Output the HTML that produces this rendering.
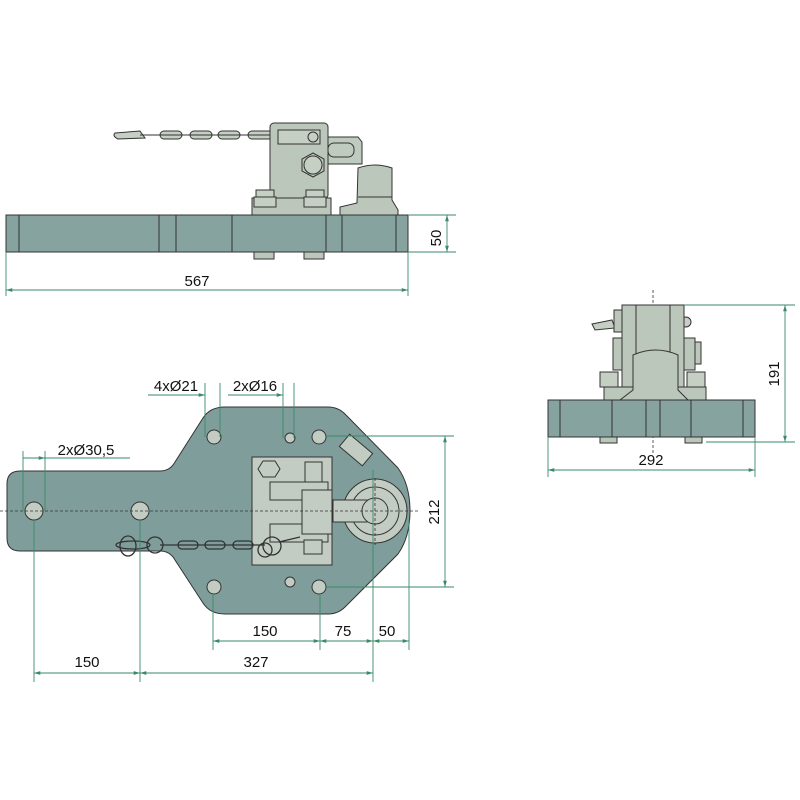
<!DOCTYPE html>
<html><head><meta charset="utf-8"><style>
html,body{margin:0;padding:0;background:#fff;width:800px;height:800px;overflow:hidden}
svg{display:block}
text{font-family:"Liberation Sans",sans-serif;font-size:15px;fill:#111}
</style></head><body>
<svg width="800" height="800" viewBox="0 0 800 800" xmlns="http://www.w3.org/2000/svg">
<defs>
<marker id="a" viewBox="0 0 10 10" refX="10" refY="5" markerWidth="7" markerHeight="7" orient="auto-start-reverse"><path d="M0,2 L10,5 L0,8z" fill="#3a8a6a"/></marker>
</defs>
<g stroke="#333" stroke-width="1">
<g fill="#c5cfc4">
<path d="M115,133 L140,131 L145,138 L118,139 Q112,136 115,133z"/>
<rect x="160" y="131" width="22" height="8" rx="4"/>
<rect x="190" y="131" width="22" height="8" rx="4"/>
<rect x="218" y="131" width="22" height="8" rx="4"/>
<rect x="248" y="131" width="34" height="8" rx="4"/>
</g>
<line x1="140" y1="135" x2="282" y2="135"/>
<path d="M328,137 L358,137 L362,142 L362,164 L328,164z" fill="#c0cbbf"/>
<rect x="328" y="143" width="26" height="14" rx="6" fill="#c0cbbf"/>
<rect x="270" y="123" width="58" height="76" rx="4" fill="#bcc7bb"/>
<rect x="278" y="130" width="42" height="14" fill="#c5cfc4"/>
<circle cx="313" cy="137" r="5" fill="#c5cfc4"/>
<polygon points="313,153 324,159 324,171 313,177 302,171 302,159" fill="#bcc7bb"/>
<circle cx="313" cy="165" r="9" fill="#c5cfc4"/>
<rect x="252" y="198" width="79" height="17" fill="#bcc7bb"/>
<rect x="256" y="190" width="18" height="8" fill="#c5cfc4"/><rect x="254" y="197" width="22" height="10" fill="#c5cfc4"/>
<rect x="306" y="190" width="18" height="8" fill="#c5cfc4"/><rect x="304" y="197" width="22" height="10" fill="#c5cfc4"/>
<path d="M358,168 Q375,162 392,168 L392,200 L398,210 L398,215 L340,215 L340,207 L357,203z" fill="#bcc7bb"/>
<line x1="358" y1="197" x2="392" y2="197"/>
<rect x="6" y="215" width="402" height="37" fill="#86a3a0"/>
<g fill="none"><line x1="19" y1="215" x2="19" y2="252"/><line x1="159" y1="215" x2="159" y2="252"/><line x1="176" y1="215" x2="176" y2="252"/><line x1="232" y1="215" x2="232" y2="252"/><line x1="326" y1="215" x2="326" y2="252"/><line x1="342" y1="215" x2="342" y2="252"/><line x1="396" y1="215" x2="396" y2="252"/></g>
<rect x="254" y="252" width="20" height="7" fill="#bcc7bb"/><rect x="304" y="252" width="20" height="7" fill="#bcc7bb"/>

<path d="M20,471 L160,471 Q170,471 175,462 L203,418 Q210,407 225,407 L328,407 Q338,407 345,414 L398,468 Q410,485 410,511 Q410,537 398,554 L345,607 Q338,614 328,614 L225,614 Q210,614 203,603 L175,560 Q170,551 160,551 L20,551 Q7,551 7,538 L7,484 Q7,471 20,471z" fill="#7f9e9b"/>
<g fill="#c3ccc3">
<circle cx="34" cy="511" r="9"/><circle cx="140" cy="511" r="9"/>
<circle cx="214" cy="437" r="7"/><circle cx="319" cy="437" r="7"/><circle cx="214" cy="587" r="7"/><circle cx="319" cy="587" r="7"/>
<circle cx="290" cy="438" r="5"/><circle cx="290" cy="582" r="5"/>
<rect x="341" y="442" width="30" height="16" transform="rotate(40 356 450)"/>
<rect x="252" y="457" width="80" height="108"/>
<polygon points="257,461 269,461 274,469 269,477 257,477 252,469" transform="translate(6,0)"/>
<rect x="305" y="462" width="17" height="26"/>
<rect x="270" y="482" width="58" height="18"/><rect x="270" y="524" width="58" height="18"/>
<rect x="302" y="490" width="30" height="44"/>
<circle cx="375" cy="511" r="32"/><circle cx="375" cy="511" r="24" fill="none"/>
<rect x="333" y="500" width="34" height="22"/>
<circle cx="375" cy="511" r="13"/>
<rect x="304" y="540" width="18" height="14"/>
</g>
<g fill="none" stroke-width="1.3">
<ellipse cx="133" cy="545" rx="17" ry="4"/><ellipse cx="128" cy="546" rx="8" ry="10"/>
<circle cx="155" cy="545" r="8"/>
<rect x="178" y="541" width="20" height="8" rx="4"/><rect x="205" y="541" width="20" height="8" rx="4"/><rect x="233" y="541" width="20" height="8" rx="4"/>
<circle cx="272" cy="546" r="9"/><circle cx="265" cy="550" r="7"/>
<line x1="160" y1="545" x2="265" y2="545"/><line x1="279" y1="542" x2="300" y2="537"/>
</g>
</g>

<g stroke="#333" stroke-width="0.8" stroke-dasharray="3,2" fill="none">
<line x1="0" y1="511" x2="420" y2="511"/>
<line x1="653" y1="290" x2="653" y2="455"/>
<line x1="618" y1="368" x2="690" y2="368"/>
<line x1="375" y1="478" x2="375" y2="545"/>
</g>

<g stroke="#333" stroke-width="1">
<path d="M592,324 L612,320 L615,328 L595,330z" fill="#c5cfc4"/>
<rect x="614" y="310" width="10" height="22" fill="#bcc7bb"/>
<rect x="613" y="338" width="10" height="32" fill="#bcc7bb"/>
<rect x="683" y="338" width="12" height="32" fill="#bcc7bb"/>
<rect x="695" y="342" width="6" height="22" fill="#bcc7bb"/>
<circle cx="686" cy="322" r="5" fill="#c5cfc4"/>
<rect x="622" y="305" width="62" height="95" fill="#bcc7bb"/>
<line x1="636" y1="305" x2="636" y2="400"/><line x1="670" y1="305" x2="670" y2="400"/>
<rect x="604" y="387" width="102" height="14" fill="#bcc7bb"/>
<path d="M633,355 Q656,345 678,355 L678,390 L688,400 L620,400 L633,390z" fill="#bcc7bb"/>
<rect x="600" y="372" width="18" height="15" fill="#c5cfc4"/><rect x="687" y="372" width="18" height="15" fill="#c5cfc4"/>
<rect x="548" y="400" width="207" height="37" fill="#86a3a0"/>
<g fill="none"><line x1="560" y1="400" x2="560" y2="437"/><line x1="612" y1="400" x2="612" y2="437"/><line x1="646" y1="400" x2="646" y2="437"/><line x1="660" y1="400" x2="660" y2="437"/><line x1="691" y1="400" x2="691" y2="437"/><line x1="743" y1="400" x2="743" y2="437"/></g>
<rect x="600" y="437" width="17" height="6" fill="#bcc7bb"/><rect x="685" y="437" width="17" height="6" fill="#bcc7bb"/>
</g>

<g stroke="#3a8a6a" stroke-width="0.9" fill="none">
<line x1="408" y1="215" x2="456" y2="215"/><line x1="408" y1="252" x2="456" y2="252"/>
<line x1="447" y1="215" x2="447" y2="252" marker-start="url(#a)" marker-end="url(#a)"/>
<line x1="6" y1="252" x2="6" y2="296"/><line x1="408" y1="252" x2="408" y2="296"/>
<line x1="6" y1="290" x2="408" y2="290" marker-start="url(#a)" marker-end="url(#a)"/>
<line x1="684" y1="305" x2="795" y2="305"/><line x1="706" y1="442" x2="795" y2="442"/>
<line x1="785" y1="305" x2="785" y2="442" marker-start="url(#a)" marker-end="url(#a)"/>
<line x1="548" y1="437" x2="548" y2="477"/><line x1="755" y1="437" x2="755" y2="477"/>
<line x1="548" y1="470" x2="755" y2="470" marker-start="url(#a)" marker-end="url(#a)"/>
<line x1="205" y1="383" x2="205" y2="437"/><line x1="220" y1="383" x2="220" y2="437"/>
<line x1="148" y1="395" x2="205" y2="395" marker-end="url(#a)"/>
<line x1="283" y1="383" x2="283" y2="438"/><line x1="294" y1="383" x2="294" y2="438"/>
<line x1="228" y1="395" x2="283" y2="395" marker-end="url(#a)"/>
<line x1="23" y1="451" x2="23" y2="511"/><line x1="45" y1="451" x2="45" y2="511"/>
<line x1="45" y1="458" x2="130" y2="458"/><line x1="23" y1="458" x2="45" y2="458" marker-end="url(#a)"/>
<line x1="326" y1="436" x2="454" y2="436"/><line x1="326" y1="587" x2="454" y2="587"/>
<line x1="445" y1="436" x2="445" y2="587" marker-start="url(#a)" marker-end="url(#a)"/>
<line x1="34" y1="520" x2="34" y2="682"/><line x1="140" y1="520" x2="140" y2="682"/>
<line x1="213" y1="594" x2="213" y2="650"/><line x1="320" y1="594" x2="320" y2="650"/>
<line x1="373" y1="470" x2="373" y2="682"/><line x1="409" y1="520" x2="409" y2="650"/>
<line x1="213" y1="641" x2="320" y2="641" marker-start="url(#a)" marker-end="url(#a)"/>
<line x1="320" y1="641" x2="373" y2="641" marker-start="url(#a)" marker-end="url(#a)"/>
<line x1="373" y1="641" x2="409" y2="641" marker-start="url(#a)" marker-end="url(#a)"/>
<line x1="34" y1="673" x2="140" y2="673" marker-start="url(#a)" marker-end="url(#a)"/>
<line x1="140" y1="673" x2="373" y2="673" marker-start="url(#a)" marker-end="url(#a)"/>
</g>
<g>
<text x="197" y="286" text-anchor="middle">567</text>
<text transform="translate(441,238) rotate(-90)" text-anchor="middle">50</text>
<text transform="translate(779,374) rotate(-90)" text-anchor="middle">191</text>
<text x="651" y="465" text-anchor="middle">292</text>
<text transform="translate(439,512) rotate(-90)" text-anchor="middle">212</text>
<text x="176" y="391" text-anchor="middle">4xØ21</text>
<text x="255" y="391" text-anchor="middle">2xØ16</text>
<text x="86" y="455" text-anchor="middle">2xØ30,5</text>
<text x="265" y="636" text-anchor="middle">150</text>
<text x="343" y="636" text-anchor="middle">75</text>
<text x="387" y="636" text-anchor="middle">50</text>
<text x="87" y="667" text-anchor="middle">150</text>
<text x="256" y="667" text-anchor="middle">327</text>
</g>
</svg>
</body></html>
